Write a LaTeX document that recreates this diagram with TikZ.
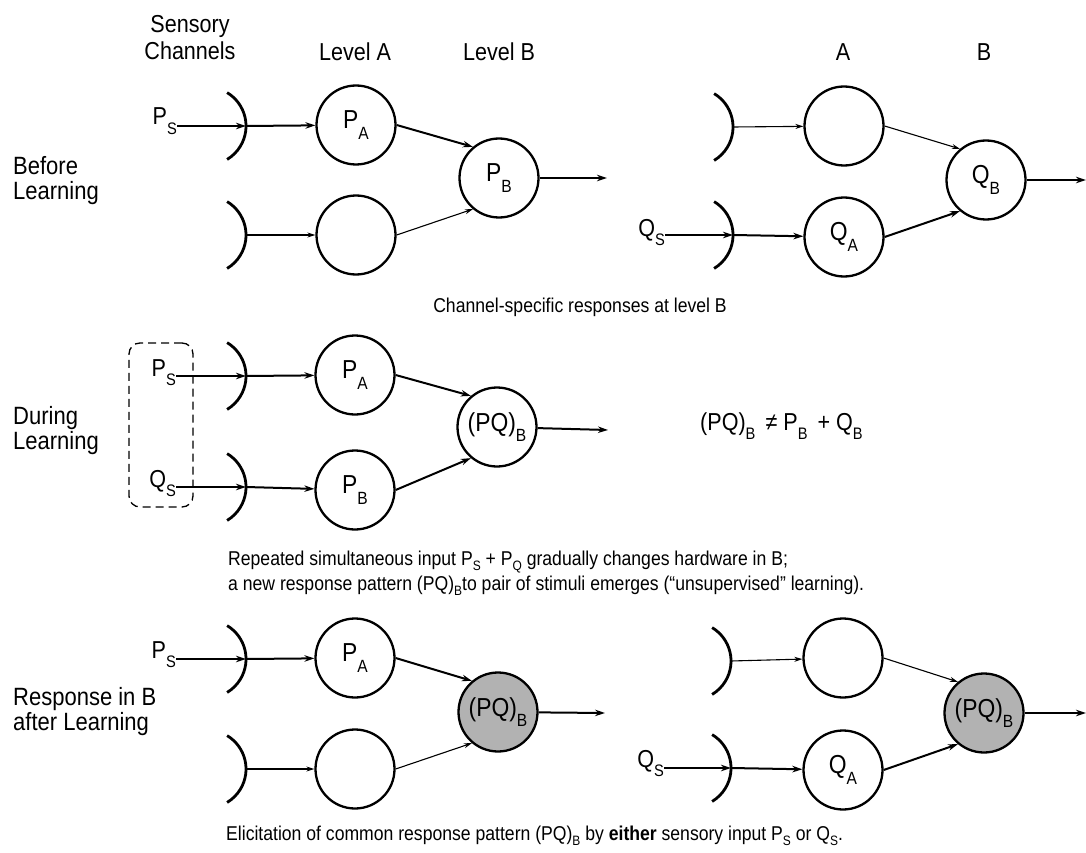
\documentclass[tikz,border=0pt]{standalone}
\usepackage{fontspec}
\usepackage{graphicx}
\setmainfont{Liberation Sans}[FakeStretch=0.88]
\usetikzlibrary{arrows.meta}
\newcommand\sbs[1]{\raisebox{-0.75ex}{\scalebox{0.68}{#1}}}
\newcommand\csb[1]{\raisebox{-0.55ex}{\scalebox{0.68}{#1}}}
\newcommand\chanarc[3]{\coordinate (#1) at (#2,-#3);
  \draw[chanline] (#1) ++(-18.9,33.4) arc[start angle=59,end angle=-59,radius=39pt];}
\tikzset{
  x=1pt,y=1pt,
  cell/.style={circle,draw,line width=2.3pt,minimum size=79pt,inner sep=0pt,font=\fontsize{26}{28}\selectfont},
  grey/.style={cell,fill=black!30},
  lab/.style={font=\fontsize{24.5}{28}\selectfont,inner sep=0pt},
  side/.style={font=\fontsize{25}{25}\selectfont,align=left,anchor=west,inner sep=0pt},
  captext/.style={font=\fontsize{20}{25}\selectfont,align=left,inner sep=0pt},
  strong/.style={line width=2pt,-{Stealth[length=10pt,width=6.5pt]}},
  weak/.style={line width=1.1pt,-{Stealth[length=8pt,width=5pt]}},
  chanline/.style={line width=2.8pt},
}
\begin{document}
\begin{tikzpicture}
\useasboundingbox[fill=white] (0,0) rectangle (1086,-853);

% headers
\node[lab,anchor=base] (hs1) at (190,-33) {Sensory};
\node[lab,anchor=base] (hs2) at (190,-60) {Channels};
\node[lab,anchor=base] (hla) at (355,-61) {Level A};
\node[lab,anchor=base] (hlb) at (499,-61) {Level B};
\node[lab,anchor=base] (ha) at (843,-61) {A};
\node[lab,anchor=base] (hb) at (984,-61) {B};

% ===== Row 1: before learning =====
\node[side] (t1) at (13,-181) {Before\\Learning};
\chanarc{c1}{246}{126}
\chanarc{c2}{246}{235}
\node[cell] (pa1) at (356,-125) {P\sbs{A}};
\node[cell] (e1) at (356,-235) {};
\node[cell] (pb1) at (499,-178) {P\sbs{B}};
\node[lab,anchor=base east] (ps1) at (177,-125) {P\sbs{S}};
\coordinate (o1) at (607,-178);
\draw[strong] (ps1.east |- c1) -- (c1);
\draw[strong] (c1) -- (pa1);
\draw[weak] (c2) -- (e1);
\draw[strong] (pa1.east) -- (pb1.130);
\draw[weak] (e1.east) -- (pb1.230);
\draw[strong] (pb1) -- (o1);

\chanarc{c3}{733}{127}
\chanarc{c4}{733}{235}
\node[cell] (e2) at (844,-126) {};
\node[cell] (qa1) at (844,-237) {Q\sbs{A}};
\node[cell] (qb1) at (986,-180) {Q\sbs{B}};
\node[lab,anchor=base east] (qs1) at (665,-236) {Q\sbs{S}};
\coordinate (o2) at (1086,-180);
\draw[weak] (c3) -- (e2);
\draw[strong] (qs1.east |- c4) -- (c4);
\draw[strong] (c4) -- (qa1);
\draw[weak] (e2.east) -- (qb1.130);
\draw[strong] (qa1.east) -- (qb1.230);
\draw[strong] (qb1) -- (o2);

\node[captext,anchor=base] (cap1) at (580,-312) {Channel-specific responses at level B};

% ===== Row 2: during learning =====
\node[side] (t2) at (13,-431) {During\\Learning};
\node[draw,dash pattern=on 8pt off 5pt,line width=1.3pt,rounded corners=11pt,minimum width=64pt,minimum height=164pt] (box) at (161,-425) {};
\chanarc{c5}{246}{376}
\chanarc{c6}{246}{487}
\node[cell] (pa2) at (355,-375) {P\sbs{A}};
\node[cell] (pb2) at (355,-490) {P\sbs{B}};
\node[cell] (pq2) at (497,-427) {(PQ)\sbs{B}};
\node[lab,anchor=base east] (ps2) at (176,-376) {P\sbs{S}};
\node[lab,anchor=base east] (qs2) at (176,-487) {Q\sbs{S}};
\coordinate (o3) at (608,-430);
\draw[strong] (ps2.east |- c5) -- (c5);
\draw[strong] (qs2.east |- c6) -- (c6);
\draw[strong] (c5) -- (pa2);
\draw[strong] (c6) -- (pb2);
\draw[strong] (pa2.east) -- (pq2.130);
\draw[strong] (pb2.east) -- (pq2.230);
\draw[strong] (pq2) -- (o3);
\node[lab,anchor=base west] (eq) at (700,-430) {(PQ)\sbs{B}\, ≠ P\sbs{B}\, + Q\sbs{B}};

\node[captext,anchor=base west] (cap2a) at (228,-565) {Repeated simultaneous input P\csb{S} + P\csb{Q} gradually changes hardware in B;};
\node[captext,anchor=base west] (cap2b) at (228,-590) {a new response pattern (PQ)\csb{B}to pair of stimuli emerges (``unsupervised'' learning).};

% ===== Row 3: after learning =====
\node[side] (t3) at (13,-712) {Response in B\\after Learning};
\chanarc{c7}{246}{659}
\chanarc{c8}{246}{769}
\node[cell] (pa3) at (355,-658) {P\sbs{A}};
\node[cell] (e3) at (355,-769) {};
\node[grey] (pq3) at (498,-712) {(PQ)\sbs{B}};
\node[lab,anchor=base east] (ps3) at (176,-658) {P\sbs{S}};
\coordinate (o4) at (605,-713);
\draw[strong] (ps3.east |- c7) -- (c7);
\draw[strong] (c7) -- (pa3);
\draw[weak] (c8) -- (e3);
\draw[strong] (pa3.east) -- (pq3.130);
\draw[weak] (e3.east) -- (pq3.230);
\draw[strong] (pq3) -- (o4);

\chanarc{c9}{731}{661}
\chanarc{c10}{731}{768}
\node[cell] (e4) at (843,-658) {};
\node[cell] (qa3) at (843,-770) {Q\sbs{A}};
\node[grey] (pq4) at (984,-713) {(PQ)\sbs{B}};
\node[lab,anchor=base east] (qs3) at (664,-767) {Q\sbs{S}};
\coordinate (o5) at (1086,-713);
\draw[weak] (c9) -- (e4);
\draw[strong] (qs3.east |- c10) -- (c10);
\draw[strong] (c10) -- (qa3);
\draw[weak] (e4.east) -- (pq4.130);
\draw[strong] (qa3.east) -- (pq4.230);
\draw[strong] (pq4) -- (o5);

\node[captext,anchor=base west] (cap3) at (226,-840) {Elicitation of common response pattern (PQ)\csb{B} by \textbf{either} sensory input P\csb{S} or Q\csb{S}.};
\end{tikzpicture}
\end{document}
